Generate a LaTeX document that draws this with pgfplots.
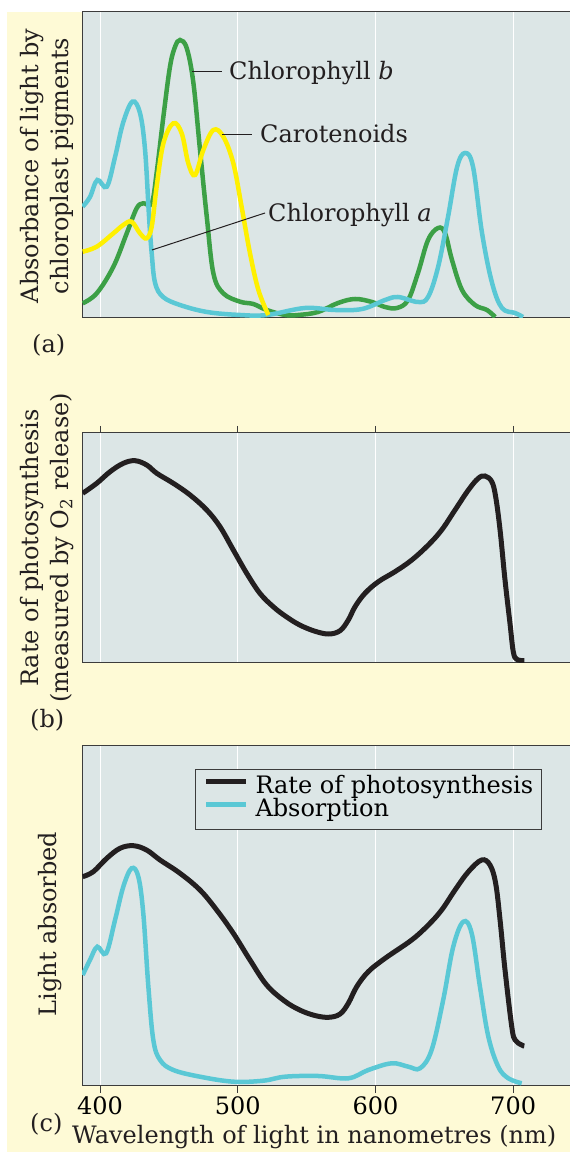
\documentclass[border=0pt]{standalone}
\usepackage{pgfplots}
\pgfplotsset{compat=1.18}
\usepackage{fontspec}
\setmainfont{DejaVu Serif}
\definecolor{cream}{RGB}{254,250,214}
\definecolor{bgc}{RGB}{220,230,230}
\definecolor{cyanc}{RGB}{90,200,213}
\definecolor{greenc}{RGB}{60,160,70}
\definecolor{yellowc}{RGB}{255,240,0}
\definecolor{blackc}{RGB}{35,31,32}
\definecolor{axc}{RGB}{60,60,60}
\newcommand\bigf{\fontsize{24}{30}\selectfont}
\pgfplotsset{
 panel/.style={scale only axis, width=492pt, xmin=386.9, xmax=744.2, ymin=0,
   axis background/.style={fill=bgc}, axis line style={axc, line width=1pt},
   xtick={400,500,600,700}, ytick=\empty, xmajorgrids,
   major grid style={white, line width=0.7pt},
   tick style={axc, line width=1pt}, major tick length=7pt, tick align=outside,
   anchor=south west, font=\bigf,
   /pgf/number format/assume math mode=true,
   every axis plot/.append style={smooth, tension=0.6, line width=4.5pt, no markers}}
}
\begin{document}
\begin{tikzpicture}
\fill[white] (0pt,0pt) rectangle (570pt,1152pt);
\fill[cream] (7pt,0pt) rectangle (570pt,1140pt);
% ---------- panel (a)
\begin{axis}[panel, at={(82pt,834pt)}, height=306pt, ymax=306, xticklabels={}, major tick length=0pt]
\addplot[greenc] coordinates {(387.4,14.7)(397.6,24.7)(409.7,51.3)(419.4,84.7)(426.6,109.7)(431.4,114.7)(437.5,114.7)(441.1,145)(446.0,201.3)(450.8,251.3)(454.5,271.3)(458.1,278)(463.0,269.7)(467.8,235)(472.6,168)(477.5,101.3)(482.3,44.7)(489.5,24.7)(501.7,16.3)(511.3,14)(521.0,8)(534.4,3)(543.8,3)(558.3,6)(572.8,15)(585.2,19)(597.5,16)(607.0,11)(615.7,10)(623.7,18)(630.9,45)(638.2,78)(645.5,90)(650.5,85)(655.6,58)(662.9,28)(672.3,13)(681.0,8)(686.9,1)};
\addplot[cyanc] coordinates {(387.4,111.3)(392.7,121)(398.0,138)(404.9,131.3)(410.9,161)(416.7,195)(423.5,216.3)(429.0,205)(432.7,168)(435.6,101)(437.5,65)(440.0,35)(445.8,21)(458.1,13)(477.7,6)(501.7,3)(521.3,3)(548.9,10)(570.7,8)(590.3,9)(607.0,18)(616.4,21)(630.9,16)(638.2,21)(645.5,51)(652.7,101)(659.3,151)(665.1,165)(670.9,151)(677.4,85)(684.7,35)(691.9,10)(701.4,5)(707.2,1)};
\addplot[yellowc] coordinates {(387.4,66.3)(397.6,71.3)(409.7,84.7)(416.9,93)(422.9,96.3)(429.0,84.7)(433.8,79.7)(437.5,91.3)(441.1,131.3)(446.0,174.7)(453.2,194.7)(459.3,184.7)(464.1,154.7)(469.0,143)(475.0,168)(482.3,188)(489.5,181.3)(496.8,154.7)(502.8,111.3)(508.9,64.7)(515.0,28)(522.2,3)};
\end{axis}
% ---------- panel (b)
\begin{axis}[panel, at={(82pt,489pt)}, height=230pt, ymax=230, xticklabels={}, xtick pos=right]
\addplot[blackc, line width=5pt] coordinates {(387.4,169.7)(397.6,179.7)(407.3,191.3)(416.9,199.7)(425.4,202.3)(433.9,198)(441.2,189.7)(453.2,179.7)(465.4,168)(477.5,153)(487.1,136.3)(496.8,113)(506.5,89.7)(516.2,69.5)(526,56)(535,46.5)(545,38)(556,31.8)(566,29)(574.3,32.3)(580.3,43)(585.2,56.3)(592.4,69.7)(602.1,81.3)(614.2,91.3)(626.4,103)(638.4,118)(648.1,133)(657.8,153)(667.5,173)(674.7,184.7)(679.6,187)(684.5,181.3)(687.3,166.3)(690.5,133)(694.1,83)(697.7,39.7)(700.1,11.3)(702.6,3.7)(708.1,2.3)};
\end{axis}
% ---------- panel (c)
\begin{axis}[panel, at={(82pt,66pt)}, height=340pt, ymax=340, xtick pos=left,
  legend style={at={(0.2297,0.9324)}, anchor=north west, draw=axc, line width=1pt, fill=bgc, font=\bigf,
    row sep=0pt, column sep=7pt, inner xsep=8pt, inner ysep=7pt,
    nodes={inner sep=0pt, text height=17pt, text depth=6pt}},
  legend cell align=left,
  legend image code/.code={\draw[#1, line width=5pt] (0pt,6pt) -- (40pt,6pt);}]
\addplot[blackc, line width=5pt] coordinates {(387.4,209.3)(395.1,214.3)(404.9,227.7)(414.5,237.7)(424.2,240.3)(433.8,236)(443.6,226)(458.1,212.7)(472.6,196)(484.7,176)(496.8,152.7)(508.9,126)(521,101)(534,85)(545,76)(556,70.5)(566,68.7)(574.3,72)(580.3,82.7)(586.4,99.3)(594.8,114.3)(607.0,127.7)(626.3,146)(638.4,161)(648.1,176)(657.8,196)(667.5,214.3)(677.1,226)(683.2,221)(687.3,202.7)(690.5,166)(694.1,116)(699.0,59.3)(701.4,46)(706.2,41)(708.1,40)};
\addlegendentry{Rate of photosynthesis}
\addplot[cyanc] coordinates {(387.4,111)(392.7,126)(398.0,139.3)(404.4,132.7)(410.9,166)(416.9,199.3)(422.9,217.7)(427.8,209.3)(431.4,172.7)(435.1,99.3)(438.7,46)(443.6,26)(453.2,16)(472.6,9.3)(496.8,4.3)(518.6,5.3)(534.4,9.3)(558.5,10)(580.3,7.7)(594.8,16)(611.8,22.7)(623.9,19.3)(632.4,17.7)(640.8,36)(649.2,86)(656.5,139.3)(663.8,164.3)(669.9,152.7)(675.9,99.3)(682.0,49.3)(689.2,19.3)(696.5,7.7)(706.2,2.7)};
\addlegendentry{Absorption}
\end{axis}
% ---------- annotations
\draw[blackc, line width=1pt] (192pt,1080pt) -- (222pt,1080pt);
\node[anchor=base west, inner sep=0pt, font=\bigf, text=blackc] at (229pt,1072pt) {Chlorophyll \textit{b}};
\draw[blackc, line width=1pt] (222pt,1017pt) -- (252pt,1017pt);
\node[anchor=base west, inner sep=0pt, font=\bigf, text=blackc] at (260pt,1009pt) {Carotenoids};
\draw[blackc, line width=1pt] (152pt,902pt) -- (265pt,939pt);
\node[anchor=base west, inner sep=0pt, font=\bigf, text=blackc] at (268pt,930pt) {Chlorophyll \textit{a}};
% ---------- y labels
\node[rotate=90, align=center, inner sep=0pt, font=\bigf, text=blackc] at (47pt,986pt) {Absorbance of light by\\chloroplast pigments};
\node[rotate=90, align=center, inner sep=0pt, font=\bigf, text=blackc] at (47pt,604pt) {Rate of photosynthesis\\(measured by O\textsubscript{2} release)};
\node[rotate=90, inner sep=0pt, font=\bigf, text=blackc] at (50pt,228pt) {Light absorbed};
% ---------- panel letters and x label
\node[anchor=base west, inner sep=0pt, font=\bigf, text=blackc] at (32pt,799pt) {(a)};
\node[anchor=base west, inner sep=0pt, font=\bigf, text=blackc] at (30pt,424pt) {(b)};
\node[anchor=base west, inner sep=0pt, font=\bigf, text=blackc] at (30pt,20pt) {(c)};
\node[anchor=base west, inner sep=0pt, font=\bigf, text=blackc] at (72pt,9pt) {Wavelength of light in nanometres (nm)};
\pgfresetboundingbox
\useasboundingbox (0pt,0pt) rectangle (570pt,1152pt);
\end{tikzpicture}
\end{document}
